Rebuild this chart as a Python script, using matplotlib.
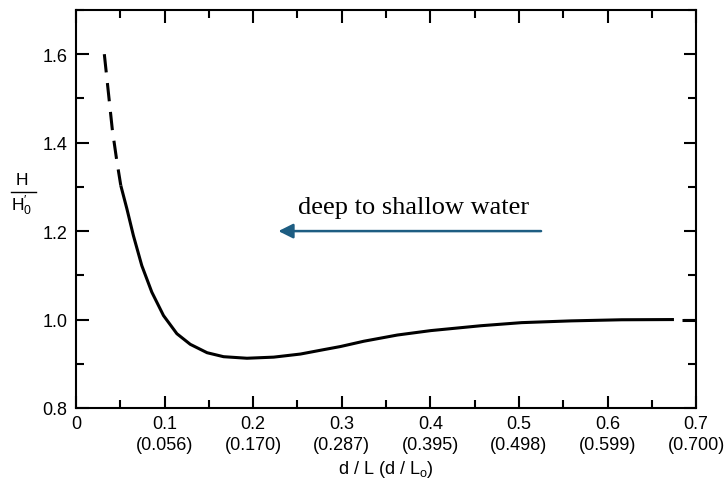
import numpy as np
import matplotlib
matplotlib.use('Agg')
import matplotlib.pyplot as plt
from matplotlib.ticker import MultipleLocator
from matplotlib.lines import Line2D

# ---------------------------------------------------------#
# Data                                 #
# ---------------------------------------------------------#
# dashed start of the curve (very shallow water)
x_dash_start = [0.032, 0.0365, 0.041, 0.046, 0.0506]
y_dash_start = [1.600, 1.515,  1.430, 1.360, 1.303]

# solid part of the curve
x_solid = [0.0506, 0.0574, 0.0648, 0.0743, 0.0856, 0.0988, 0.1139, 0.129,
           0.148, 0.1666, 0.193, 0.2232, 0.2534, 0.2798, 0.2986, 0.325,
           0.3628, 0.4005, 0.457, 0.503, 0.559, 0.616, 0.675]
y_solid = [1.303, 1.251, 1.190, 1.122, 1.062, 1.009, 0.968, 0.944,
           0.925, 0.916, 0.9125, 0.915, 0.922, 0.932, 0.939, 0.951,
           0.965, 0.975, 0.986, 0.993, 0.997, 0.9995, 1.000]

# dashed end of the curve (deep water)
x_dash_end = [0.684, 0.700]
y_dash_end = [1.000, 1.000]

# tick labels: d/L and (d/Lo)
x_ticks       = [0.0, 0.1, 0.2, 0.3, 0.4, 0.5, 0.6, 0.7]
x_labels_top  = ['0', '0.1', '0.2', '0.3', '0.4', '0.5', '0.6', '0.7']
x_labels_deep = ['', '(0.056)', '(0.170)', '(0.287)', '(0.395)', '(0.498)',
                 '(0.599)', '(0.700)']
y_ticks  = [0.8, 1.0, 1.2, 1.4, 1.6]
y_labels = ['0.8', '1.0', '1.2', '1.4', '1.6']

# arrow annotation
arrow_text  = 'deep to shallow water'
arrow_start = (0.525, 1.2)
arrow_end   = (0.2285, 1.2)

# ---------------------------------------------------------#
# Plot                                                     #
# ---------------------------------------------------------#
plt.rcParams['font.family'] = ['Liberation Sans', 'DejaVu Sans']
plt.rcParams['mathtext.fontset'] = 'custom'
plt.rcParams['mathtext.rm'] = 'Liberation Sans'
plt.rcParams['mathtext.it'] = 'Liberation Sans'

fig = plt.figure(figsize=(7.27, 4.89), dpi=100)
ax = fig.add_axes([0.1045, 0.1636, 0.853, 0.814])

line_kw = dict(color='black', lw=2.2, solid_capstyle='butt',
               dash_capstyle='butt', solid_joinstyle='round')
ax.plot(x_dash_start, y_dash_start, linestyle=(0, (6, 3.5)), **line_kw)
ax.plot(x_solid, y_solid, **line_kw)
ax.plot(x_dash_end, y_dash_end, **line_kw)

ax.set_xlim(0, 0.7)
ax.set_ylim(0.8, 1.7)

ax.set_xticks(x_ticks)
ax.set_xticklabels([a + '\n' + b if b else a for a, b in zip(x_labels_top, x_labels_deep)],
                   linespacing=1.3)
ax.xaxis.set_minor_locator(MultipleLocator(0.05))
ax.set_yticks(y_ticks)
ax.set_yticklabels(y_labels)
ax.yaxis.set_minor_locator(MultipleLocator(0.1))

ax.tick_params(which='both', direction='in', top=True, right=True,
               width=1.5, labelsize=13, colors='black')
ax.tick_params(which='major', length=9)
ax.tick_params(which='minor', length=6)
ax.tick_params(axis='x', which='major', pad=5)
ax.tick_params(axis='y', which='major', pad=6)
for s in ax.spines.values():
    s.set_linewidth(1.5)

ax.set_xlabel(r'd / L (d / L$_\mathrm{o}$)', fontsize=13, labelpad=4)

# y label drawn as a stacked fraction H / H'0
fig.text(0.030, 1 - 181/489, 'H', fontsize=12.5, ha='center', va='center')
fig.add_artist(Line2D([11/727, 36/727], [1 - 193/489, 1 - 193/489],
                      color='black', lw=1.0))
fig.text(0.030, 1 - 206/489, r"H$^{\prime}_{0}$", fontsize=12.5,
         ha='center', va='center')

ax.annotate('', xy=arrow_end, xytext=arrow_start,
            arrowprops=dict(arrowstyle='-|>', color='#1d5d82', lw=1.8,
                            mutation_scale=22, shrinkA=0, shrinkB=0))
ax.text(0.381, 1.255, arrow_text, ha='center', va='center',
        family='Liberation Serif', fontsize=19)

fig.savefig('out.png', dpi=100)
